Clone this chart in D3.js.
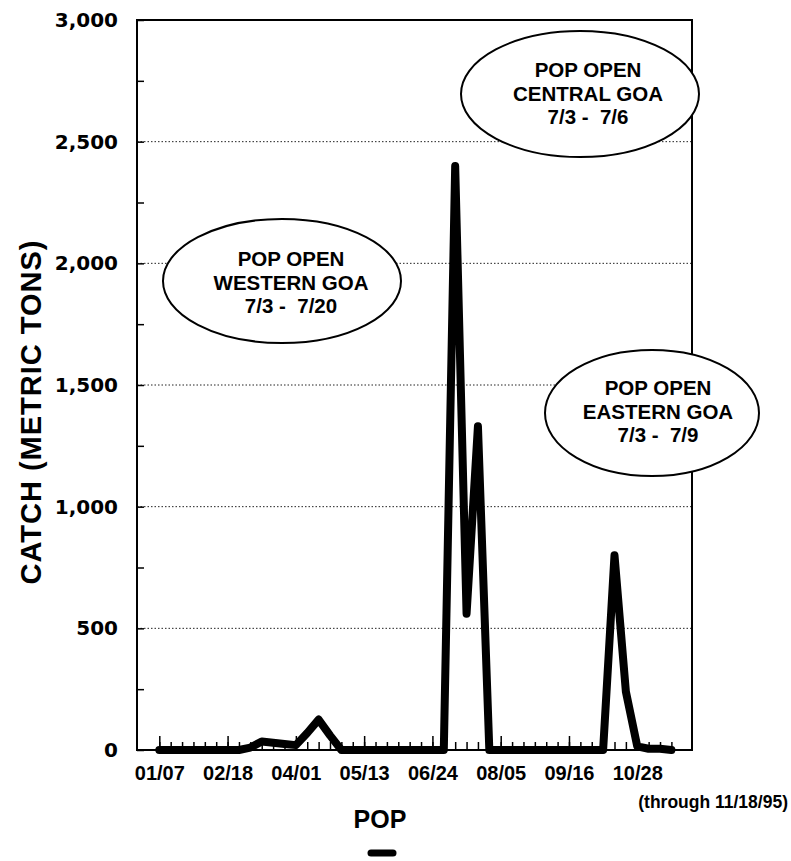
<!DOCTYPE html>
<html>
<head>
<meta charset="utf-8">
<script src="https://cdn.jsdelivr.net/npm/d3@7"></script>
<style>
  html, body { margin: 0; padding: 0; background: #fff; }
  svg { display: block; }
</style>
</head>
<body>
<div id="chart"></div>
<script>
// ---- data ----
const weeks = ["01/07","01/14","01/21","01/28","02/04","02/11","02/18","02/25","03/04","03/11",
  "03/18","03/25","04/01","04/08","04/15","04/22","04/29","05/06","05/13","05/20",
  "05/27","06/03","06/10","06/17","06/24","07/01","07/08","07/15","07/22","07/29",
  "08/05","08/12","08/19","08/26","09/02","09/09","09/16","09/23","09/30","10/07",
  "10/14","10/21","10/28","11/04","11/11","11/18"];
const popCatch = [0,0,0,0,0,0,0,0,10,35,
  30,25,20,70,125,60,0,0,0,0,
  0,0,0,0,0,0,2400,560,1330,0,
  0,0,0,0,0,0,0,0,0,0,
  800,240,15,5,5,0];
const xTickLabels = ["01/07","02/18","04/01","05/13","06/24","08/05","09/16","10/28"];
const yTicks = [0,500,1000,1500,2000,2500,3000];
const yMinorTicks = [0,250,500,750,1000,1250,1500,1750,2000,2250,2500,2750,3000];
const gridValues = [500,1000,1500,2000,2500];
const seriesName = "POP";
const yTitle = "CATCH (METRIC TONS)";
const footnote = "(through 11/18/95)";
const notes = [
  {lines:["POP OPEN","WESTERN GOA","7/3 -  7/20"], cx:282, cy:281, rx:119, ry:62, tx:291, ty:266},
  {lines:["POP OPEN","CENTRAL GOA","7/3 -  7/6"], cx:580, cy:94, rx:119, ry:63, tx:588, ty:77},
  {lines:["POP OPEN","EASTERN GOA","7/3 -  7/9"], cx:652, cy:413, rx:107, ry:63, tx:658, ty:395}
];

// ---- layout ----
const W = 791, H = 861;
const plot = {left:137, right:692, top:20, bottom:750};
const svg = d3.select("#chart").append("svg").attr("width", W).attr("height", H);

const x = d3.scalePoint().domain(weeks).range([159.3, 671.4]);
const y = d3.scaleLinear().domain([0, 3000]).range([plot.bottom, plot.top]);

// gridlines
svg.append("g").selectAll("line").data(gridValues).join("line")
  .attr("x1", plot.left).attr("x2", plot.right)
  .attr("y1", d => y(d)).attr("y2", d => y(d))
  .attr("stroke", "#222").attr("stroke-width", 1)
  .attr("stroke-dasharray", "1.5,2");

// data line
const line = d3.line().x((d, i) => x(weeks[i])).y(d => y(d));
svg.append("path").datum(popCatch)
  .attr("d", line)
  .attr("fill", "none").attr("stroke", "#000").attr("stroke-width", 8)
  .attr("stroke-linejoin", "round").attr("stroke-linecap", "round");

// x axis: minor weekly ticks
const xMinor = svg.append("g").attr("transform", `translate(0,${plot.bottom})`)
  .call(d3.axisBottom(x).tickValues(weeks).tickSize(-8).tickFormat(""));
xMinor.select(".domain").remove();
xMinor.selectAll("line").attr("stroke-width", 1.5);

// x axis: major ticks with labels
const xMajor = svg.append("g").attr("transform", `translate(0,${plot.bottom})`)
  .call(d3.axisBottom(x).tickValues(xTickLabels).tickSize(-14).tickPadding(16));
xMajor.select(".domain").remove();
xMajor.selectAll("line").attr("stroke-width", 1.5);
xMajor.selectAll("text")
  .attr("font-family", "'Liberation Sans', Arial, sans-serif")
  .attr("font-weight", "bold").attr("font-size", 20).attr("fill", "#000");

// y axis: minor ticks
const yMinor = svg.append("g").attr("transform", `translate(${plot.left},0)`)
  .call(d3.axisLeft(y).tickValues(yMinorTicks).tickSize(-7).tickFormat(""));
yMinor.select(".domain").remove();
yMinor.selectAll("line").attr("stroke-width", 1.5);

// y axis labels
const yAxis = svg.append("g").attr("transform", `translate(${plot.left},0)`)
  .call(d3.axisLeft(y).tickValues(yTicks).tickSize(0).tickPadding(19).tickFormat(d3.format(",")));
yAxis.select(".domain").remove();
yAxis.selectAll("text")
  .attr("font-family", "'DejaVu Sans', sans-serif")
  .attr("font-weight", "bold").attr("font-size", 20).attr("fill", "#000");

// frame
svg.append("rect")
  .attr("x", plot.left).attr("y", plot.top)
  .attr("width", plot.right - plot.left).attr("height", plot.bottom - plot.top)
  .attr("fill", "none").attr("stroke", "#000").attr("stroke-width", 2);

// annotations
const ng = svg.append("g").selectAll("g").data(notes).join("g");
ng.append("ellipse")
  .attr("cx", d => d.cx).attr("cy", d => d.cy).attr("rx", d => d.rx).attr("ry", d => d.ry)
  .attr("fill", "#fff").attr("stroke", "#000").attr("stroke-width", 2);
ng.each(function(d) {
  const g = d3.select(this);
  d.lines.forEach((t, i) => {
    g.append("text")
      .attr("x", d.tx).attr("y", d.ty + i * 23.5)
      .attr("text-anchor", "middle")
      .attr("font-family", "'Liberation Sans', Arial, sans-serif")
      .attr("font-weight", "bold").attr("font-size", 20.5)
      .style("white-space", "pre")
      .text(t);
  });
});

// y title
svg.append("text")
  .attr("transform", "translate(41,412) rotate(-90)")
  .attr("text-anchor", "middle")
  .attr("font-family", "'Liberation Sans', Arial, sans-serif")
  .attr("font-weight", "bold").attr("font-size", 29)
  .attr("letter-spacing", 1)
  .text(yTitle);

// legend
svg.append("text")
  .attr("x", 380).attr("y", 828)
  .attr("text-anchor", "middle")
  .attr("font-family", "'Liberation Sans', Arial, sans-serif")
  .attr("font-weight", "bold").attr("font-size", 25)
  .text(seriesName);
svg.append("line")
  .attr("x1", 371).attr("x2", 393).attr("y1", 853).attr("y2", 853)
  .attr("stroke", "#000").attr("stroke-width", 7).attr("stroke-linecap", "round");

// footnote
svg.append("text")
  .attr("x", 788).attr("y", 808)
  .attr("text-anchor", "end")
  .attr("font-family", "'Liberation Sans', Arial, sans-serif")
  .attr("font-weight", "bold").attr("font-size", 17.5)
  .text(footnote);
</script>
</body>
</html>
